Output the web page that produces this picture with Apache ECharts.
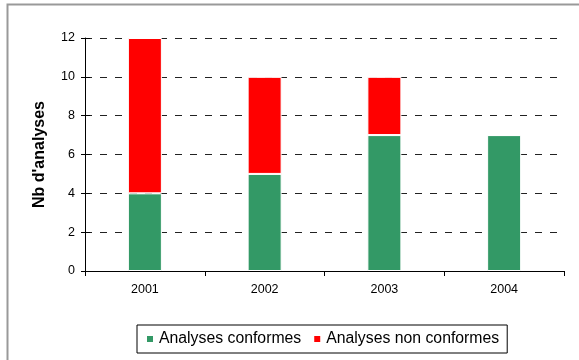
<!DOCTYPE html>
<html><head><meta charset="utf-8">
<script src="https://cdn.jsdelivr.net/npm/echarts@6/dist/echarts.min.js"></script>
<style>html,body{margin:0;padding:0;background:#fff}#c{width:579px;height:360px}</style>
</head><body><div id="c"></div>
<script>
const categories = ['2001', '2002', '2003', '2004'];
const conformes = [4, 5, 7, 7];
const nonConformes = [8, 5, 3, 0];
const yTicks = [0, 2, 4, 6, 8, 10, 12];

const chart = echarts.init(document.getElementById('c'), null, {renderer: 'canvas'});
const font = 'Liberation Sans, Arial, sans-serif';
const yMin = yTicks[0], yMax = yTicks[yTicks.length - 1];
chart.setOption({
  animation: false,
  textStyle: {fontFamily: font},
  graphic: [{
    type: 'rect', shape: {x: 7.5, y: 4.5, width: 700, height: 500},
    style: {fill: 'none', stroke: '#999', lineWidth: 2}, silent: true, z: -1
  }],
  grid: {left: 85, right: 15, top: 38, bottom: 89, containLabel: false},
  legend: {
    bottom: 7, left: 137,
    itemWidth: 8, itemHeight: 8, itemGap: 11,
    padding: [6, 8, 6, 8],
    borderColor: '#000', borderWidth: 1,
    icon: 'rect',
    textStyle: {fontSize: 15.8, color: '#000', fontFamily: font},
    data: ['Analyses conformes', 'Analyses non conformes']
  },
  xAxis: {
    type: 'category', data: categories,
    axisLine: {lineStyle: {color: '#000', width: 1}},
    axisTick: {show: true, alignWithLabel: false, length: 5, lineStyle: {color: '#000'}},
    axisLabel: {fontSize: 12.5, color: '#000', margin: 12, fontFamily: font}
  },
  yAxis: [{
    type: 'value', min: yMin, max: yMax, interval: 2,
    name: "Nb d'analyses", nameLocation: 'middle', nameGap: 37,
    nameTextStyle: {fontSize: 16, fontWeight: 'bold', color: '#000', fontFamily: font},
    axisLine: {show: true, lineStyle: {color: '#000'}},
    axisTick: {show: true, length: 4, lineStyle: {color: '#000'}},
    axisLabel: {fontSize: 12.5, color: '#000', margin: 10, fontFamily: font},
    splitLine: {show: true, lineStyle: {color: '#222', type: [7, 8], width: 1}}
  }, {
    type: 'value', min: yMin, max: yMax, interval: 2, position: 'left',
    axisLine: {show: false},
    axisTick: {show: true, inside: true, length: 5, lineStyle: {color: '#000'}},
    axisLabel: {show: false}, splitLine: {show: false}
  }],
  series: [
    {name: 'Analyses conformes', type: 'bar', stack: 's', data: conformes, barWidth: 34,
     itemStyle: {color: '#339966', borderColor: '#fff', borderWidth: 1}},
    {name: 'Analyses non conformes', type: 'bar', stack: 's', data: nonConformes, barWidth: 34,
     itemStyle: {color: '#ff0000', borderColor: '#fff', borderWidth: 1}}
  ]
});
</script></body></html>
